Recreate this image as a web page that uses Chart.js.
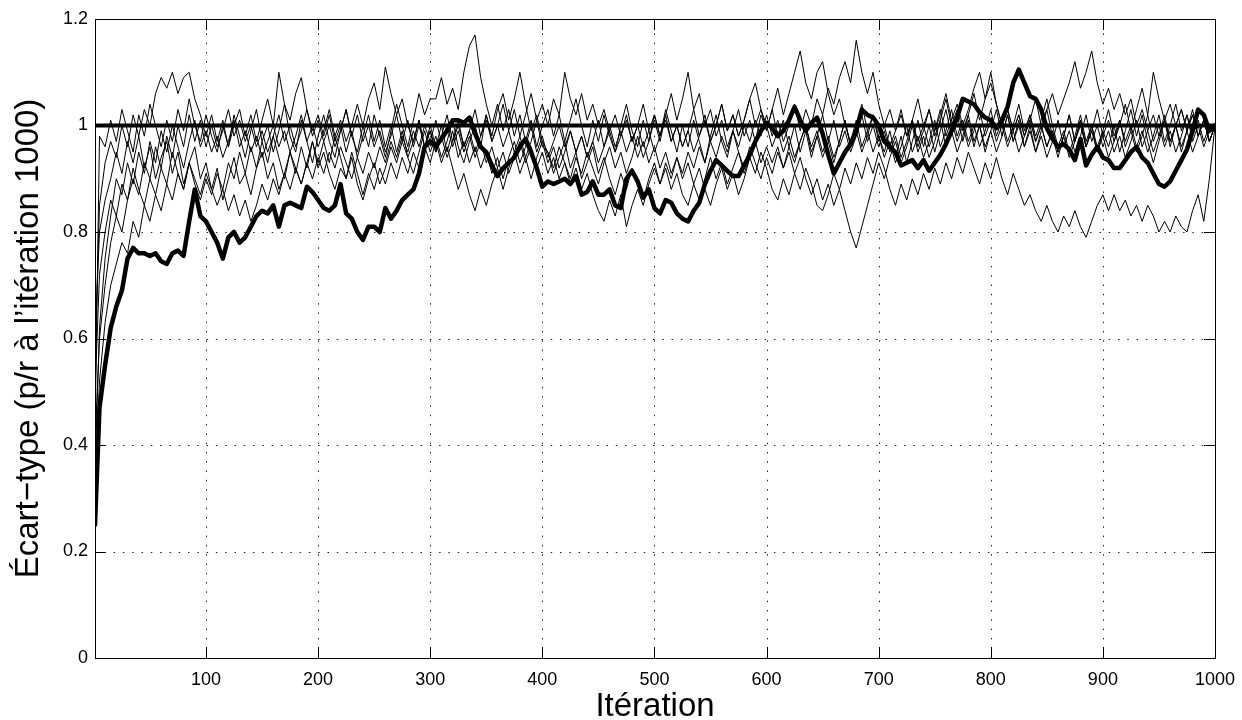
<!DOCTYPE html>
<html>
<head>
<meta charset="utf-8">
<script src="https://cdn.jsdelivr.net/npm/chart.js@4"></script>
<style>
body{margin:0;background:#fff;}
#wrap{width:1242px;height:720px;}
</style>
</head>
<body>
<div id="wrap"><canvas id="chart" width="1242" height="720"></canvas></div>
<script>

// sampling grid: iteration 1, then every 5 iterations
let iters=[1];
for(let k=5;k<=1000;k+=5) iters.push(k);

let xTicks=[100,200,300,400,500,600,700,800,900,1000];
let yTicks=[0,0.2,0.4,0.6,0.8,1,1.2];
let refLevel=1;

// thick run
let thick=[0.25,
0.47,0.55,0.62,0.66,0.69,0.75,0.77,0.76,0.76,0.755,0.76,0.745,0.74,0.76,0.765,0.755,0.82,0.88,0.83,0.82,
0.80,0.78,0.75,0.79,0.80,0.78,0.79,0.81,0.83,0.84,0.835,0.85,0.81,0.85,0.855,0.85,0.845,0.885,0.875,0.86,
0.845,0.84,0.85,0.89,0.835,0.825,0.80,0.785,0.81,0.81,0.80,0.845,0.825,0.84,0.86,0.87,0.88,0.91,0.96,0.97,
0.96,0.975,0.99,1.01,1.01,1.005,1.015,0.985,0.96,0.95,0.925,0.905,0.92,0.93,0.94,0.96,0.975,0.95,0.92,0.885,
0.895,0.89,0.895,0.9,0.89,0.905,0.87,0.875,0.895,0.87,0.87,0.88,0.85,0.845,0.9,0.915,0.895,0.865,0.88,0.845,
0.835,0.86,0.855,0.835,0.825,0.82,0.84,0.855,0.89,0.915,0.935,0.925,0.915,0.905,0.905,0.925,0.945,0.97,0.99,1.005,
0.995,0.98,0.99,1.01,1.035,1.01,0.99,1.005,1.015,0.985,0.945,0.91,0.93,0.95,0.965,0.99,1.03,1.02,1.015,1.0,
0.97,0.96,0.95,0.925,0.93,0.935,0.92,0.935,0.915,0.93,0.945,0.965,0.99,1.015,1.05,1.045,1.04,1.025,1.015,1.01,
0.995,1.01,1.035,1.08,1.105,1.08,1.055,1.05,1.03,0.995,0.975,0.96,0.965,0.955,0.935,0.975,0.925,0.945,0.96,0.94,
0.935,0.92,0.92,0.935,0.95,0.96,0.94,0.93,0.91,0.89,0.885,0.895,0.915,0.935,0.955,0.99,1.03,1.02,0.99,1.0];

// thin runs
let runA=[0.42,
0.98,0.96,1.01,0.97,1.03,0.99,0.95,1.02,0.98,1.04,1.0,0.96,1.01,0.97,1.03,0.99,1.05,1.0,0.97,1.02,
0.98,0.95,1.0,0.96,1.02,0.98,0.94,0.99,1.03,0.97,1.0,0.95,0.99,1.04,0.98,0.95,1.01,0.97,0.93,0.98,
1.02,0.97,0.94,0.99,1.03,0.98,0.95,1.0,0.96,1.02,0.98,0.94,0.99,1.04,1.0,0.96,1.01,1.06,1.02,1.05,
1.05,1.09,1.04,1.07,1.03,1.1,1.15,1.17,1.09,1.04,1.0,1.04,0.99,1.03,0.98,1.02,0.97,1.01,0.96,1.0,
1.03,0.98,1.02,0.97,1.01,1.05,1.0,0.96,1.01,0.97,1.02,0.98,0.95,1.0,1.04,0.99,0.96,1.01,0.97,1.02,
0.98,1.03,0.99,0.95,1.0,0.96,1.01,0.97,0.93,0.98,1.02,0.97,0.94,0.99,1.03,0.98,1.01,0.97,1.02,0.99,
1.03,0.98,1.01,0.96,1.0,0.95,0.99,0.94,0.98,1.02,0.97,0.93,0.97,1.01,0.96,1.0,1.04,0.99,1.02,0.98,
0.95,0.99,0.94,0.98,0.93,0.97,1.01,0.96,1.0,0.95,0.99,1.03,0.98,1.02,0.97,1.01,0.96,1.0,0.95,0.99,
1.03,0.98,1.02,0.97,1.01,0.96,1.0,0.95,0.99,1.03,0.98,0.94,0.98,1.02,0.97,1.01,0.96,1.0,0.95,0.99,
0.96,1.0,0.95,0.99,1.03,0.98,1.02,0.97,0.93,0.97,1.01,0.96,1.0,0.95,0.99,1.03,0.98,1.01,0.97,1.0];

let runB=[0.55,
0.85,0.93,0.97,0.94,1.0,0.96,1.02,0.98,1.03,1.0,1.06,1.09,1.07,1.1,1.06,1.09,1.1,1.05,1.02,0.98,
1.02,0.97,1.01,0.96,1.0,1.03,0.98,1.02,0.97,1.01,1.05,1.0,1.1,1.04,1.01,1.06,1.09,1.03,0.99,1.02,
0.98,1.02,0.97,1.0,0.95,0.99,0.94,0.98,1.02,0.97,1.01,0.96,1.0,0.95,0.99,0.94,0.97,1.01,0.96,1.0,
0.96,1.0,0.95,0.99,0.94,0.97,0.93,0.96,0.92,0.95,0.91,0.94,0.9,0.94,0.97,0.93,0.96,1.0,0.95,0.98,
0.94,0.97,1.0,0.96,0.99,0.95,0.98,0.94,0.97,1.01,0.96,0.99,0.95,0.98,1.02,0.97,1.0,0.96,0.99,0.95,
0.98,1.02,0.97,1.0,0.96,0.99,1.03,0.98,1.01,0.97,1.0,1.04,0.99,1.02,0.98,1.01,1.05,1.0,1.03,0.99,
1.03,1.07,1.02,1.06,1.1,1.14,1.08,1.05,1.1,1.12,1.06,1.02,1.05,1.0,0.97,1.01,0.96,0.99,0.95,0.98,
0.94,0.97,0.93,0.96,1.0,0.95,0.98,0.94,0.97,1.01,0.96,0.99,1.03,0.98,1.01,0.97,1.0,0.96,0.99,1.03,
0.98,1.01,0.97,1.0,1.04,0.99,1.02,0.98,1.01,1.05,1.0,0.96,0.99,0.95,0.98,1.02,0.97,1.0,0.96,0.99,
1.03,0.98,1.01,0.97,1.0,0.96,0.99,0.95,0.98,1.02,0.97,1.0,1.04,0.99,1.02,0.98,1.01,0.97,1.0,1.0];

let runC=[0.35,
0.62,0.75,0.83,0.9,0.87,0.93,0.89,0.95,0.91,0.97,0.93,0.99,0.95,1.0,0.96,0.92,0.97,1.01,0.96,0.99,
0.95,0.98,0.94,0.97,1.01,0.96,0.99,0.95,0.98,0.94,0.97,1.0,0.96,0.99,0.95,0.98,1.02,0.97,1.0,0.96,
0.99,1.03,0.98,1.01,0.97,1.0,1.04,1.0,1.05,1.08,1.03,1.11,1.06,1.02,1.05,1.0,0.97,1.01,0.96,0.99,
0.95,0.98,0.94,0.97,1.01,0.96,0.99,0.95,0.98,1.02,0.97,1.0,0.96,0.99,0.95,0.98,0.94,0.97,1.01,0.96,
0.95,0.91,0.94,0.97,0.92,0.95,0.9,0.93,0.96,0.91,0.94,0.9,0.87,0.91,0.88,0.92,0.89,0.86,0.9,0.93,
0.89,0.92,0.88,0.91,0.87,0.85,0.89,0.86,0.9,0.94,0.9,0.93,0.89,0.92,0.95,0.91,0.94,0.97,0.93,0.96,
0.93,0.96,0.92,0.95,0.91,0.94,0.9,0.87,0.9,0.86,0.89,0.85,0.88,0.84,0.8,0.77,0.81,0.85,0.89,0.93,
0.9,0.94,0.97,0.93,0.96,1.0,0.95,0.98,0.94,0.97,1.01,0.96,0.99,0.95,0.98,1.02,0.97,1.0,0.96,0.99,
0.95,0.98,1.02,0.97,1.0,0.96,0.99,0.95,0.98,0.94,0.97,1.01,0.96,0.99,0.95,0.98,1.02,0.97,1.0,0.96,
0.99,0.95,0.98,0.94,0.97,1.01,0.96,0.99,0.95,0.98,1.02,0.97,1.0,0.96,0.99,0.95,0.98,1.01,0.97,1.0];

let runD=[0.3,
0.52,0.63,0.7,0.74,0.78,0.76,0.82,0.79,0.85,0.82,0.87,0.84,0.89,0.86,0.91,0.88,0.93,0.9,0.87,0.91,
0.88,0.85,0.88,0.84,0.87,0.83,0.86,0.82,0.85,0.89,0.86,0.9,0.87,0.91,0.88,0.92,0.89,0.93,0.9,0.94,
0.91,0.95,0.92,0.96,0.93,0.9,0.94,0.91,0.95,0.92,0.96,0.93,0.97,0.94,0.98,0.95,0.99,0.96,1.0,0.97,
1.01,0.97,1.0,0.96,0.99,0.95,0.98,0.94,0.97,0.93,0.96,0.92,0.95,0.91,0.94,0.97,0.93,0.96,0.92,0.95,
0.91,0.94,0.9,0.93,0.89,0.92,0.88,0.91,0.87,0.84,0.82,0.86,0.83,0.87,0.81,0.85,0.88,0.85,0.89,0.92,
0.89,0.93,0.9,0.94,0.91,0.95,0.92,0.96,0.93,0.97,0.94,0.98,0.95,0.99,0.96,1.0,0.97,1.01,0.98,1.02,
0.98,1.01,0.97,1.0,1.04,0.99,1.03,1.0,1.05,1.02,1.07,1.04,1.09,1.12,1.08,1.16,1.1,1.06,1.1,1.04,
1.0,1.03,0.99,1.02,0.98,1.01,0.97,1.0,0.96,0.99,1.03,0.98,1.01,0.97,1.0,0.96,0.99,1.03,0.98,1.01,
0.97,1.0,0.96,0.99,0.95,0.98,1.02,0.97,1.0,0.96,0.99,0.95,0.98,0.94,0.97,1.01,0.96,0.99,0.95,0.98,
0.94,0.97,1.01,0.96,0.99,0.95,0.98,1.02,0.97,1.0,0.96,0.99,0.95,0.98,1.02,0.97,1.0,0.96,0.99,1.0];

let runE=[0.5,
0.72,0.8,0.86,0.83,0.89,0.86,0.92,0.88,0.85,0.9,0.87,0.92,0.89,0.95,0.91,0.88,0.93,0.89,0.86,0.9,
0.87,0.91,0.88,0.93,0.9,0.95,0.91,0.96,0.92,0.97,0.93,0.98,0.94,0.9,0.95,0.91,0.96,0.92,0.97,0.93,
0.97,0.93,0.98,0.94,0.9,0.95,0.91,0.87,0.91,0.88,0.92,0.89,0.93,0.9,0.94,0.91,0.95,0.92,0.96,0.93,
0.97,0.93,0.96,0.92,0.88,0.91,0.87,0.84,0.88,0.85,0.89,0.92,0.88,0.92,0.95,0.91,0.94,0.9,0.94,0.97,
0.93,0.96,0.92,0.95,0.99,0.95,0.98,0.94,0.97,0.93,0.96,1.0,0.96,0.99,0.95,0.98,0.94,0.97,0.93,0.96,
0.92,0.95,0.91,0.94,0.9,0.93,0.89,0.92,0.88,0.85,0.89,0.92,0.88,0.91,0.87,0.9,0.94,0.91,0.95,0.92,
0.88,0.86,0.9,0.87,0.91,0.88,0.92,0.89,0.85,0.84,0.87,0.91,0.88,0.92,0.89,0.93,0.9,0.94,0.91,0.95,
0.92,0.88,0.85,0.89,0.86,0.9,0.87,0.91,0.88,0.92,0.89,0.93,0.9,0.94,0.91,0.95,0.92,0.89,0.93,0.9,
0.94,0.9,0.87,0.91,0.88,0.85,0.87,0.84,0.82,0.85,0.82,0.8,0.83,0.81,0.84,0.81,0.79,0.82,0.85,0.87,
0.84,0.87,0.84,0.86,0.83,0.85,0.82,0.85,0.83,0.8,0.82,0.8,0.83,0.81,0.8,0.84,0.87,0.82,0.9,1.0];

let runF=[0.4,
0.6,0.7,0.78,0.83,0.8,0.86,0.9,0.87,0.93,0.9,0.96,0.92,0.98,0.94,1.0,0.96,1.02,0.97,1.01,0.96,
1.0,0.96,0.99,1.03,0.98,1.01,0.97,1.0,0.96,0.99,0.95,0.98,1.02,0.97,1.0,0.96,0.99,1.03,0.98,1.01,
0.97,1.0,0.96,0.99,1.03,0.98,1.02,0.97,1.0,0.96,0.99,0.95,0.98,1.02,0.97,1.01,0.96,1.0,0.96,0.99,
0.95,0.98,1.02,0.97,1.0,0.96,0.99,1.03,0.98,1.01,0.97,1.0,1.04,0.99,1.03,0.98,1.02,1.06,1.01,1.04,
1.0,1.05,1.02,1.1,1.05,1.02,1.06,1.01,1.04,1.0,1.03,0.99,1.02,0.98,1.01,0.97,1.0,1.04,0.99,1.02,
0.98,1.01,0.97,1.0,0.96,0.99,0.95,0.98,1.02,0.97,1.0,1.04,0.99,1.02,0.98,1.01,1.05,1.08,1.03,1.0,
0.96,0.99,0.95,0.98,0.94,0.97,1.0,0.96,0.99,0.95,0.98,0.94,0.97,1.01,0.96,0.99,0.95,0.98,1.02,0.97,
1.0,0.96,0.99,1.03,0.98,1.01,1.05,1.0,1.03,0.99,1.02,1.06,1.01,1.04,1.0,1.03,1.07,1.1,1.05,1.08,
1.04,1.0,1.03,0.99,1.02,0.98,1.01,1.05,1.0,1.03,1.06,1.02,1.05,1.08,1.12,1.07,1.1,1.14,1.08,1.04,
1.07,1.03,1.06,1.02,1.05,1.0,1.03,0.99,1.02,0.98,1.01,0.97,1.0,1.03,0.99,1.02,0.98,1.01,0.97,1.0];

let runG=[0.6,
0.8,0.86,0.9,0.95,0.91,0.97,0.93,0.98,0.92,0.96,0.9,0.94,0.97,0.91,0.95,0.89,0.93,0.96,0.9,0.93,
0.88,0.92,0.86,0.9,0.94,0.89,0.91,0.87,0.92,0.95,0.9,0.93,0.88,0.91,0.95,0.92,0.89,0.93,0.97,0.92,
0.95,0.91,0.88,0.92,0.9,0.94,0.89,0.86,0.9,0.93,0.89,0.92,0.96,0.93,0.97,0.94,0.91,0.95,0.99,0.95,
0.98,0.94,0.97,1.01,0.96,0.93,0.97,1.0,0.96,1.02,0.98,1.03,1.06,1.01,1.05,1.1,1.04,0.99,1.02,0.97,
0.95,0.92,0.96,0.93,0.9,0.94,0.91,0.95,0.92,0.89,0.93,0.96,0.92,0.95,0.91,0.94,0.98,0.94,0.97,1.01,
0.97,1.02,1.06,1.01,1.05,1.1,1.03,1.06,1.0,1.03,0.98,1.01,0.96,0.99,0.95,0.92,0.96,0.93,0.9,0.94,
0.91,0.95,0.92,0.96,0.93,0.97,1.0,0.95,0.98,0.94,0.97,1.01,0.96,0.99,0.95,0.98,1.02,0.97,1.0,0.96,
0.99,0.95,0.98,0.94,0.97,1.01,0.96,0.99,1.03,0.98,1.01,1.05,1.0,1.03,0.99,1.02,1.06,1.01,1.05,1.1,
1.04,1.0,1.03,0.99,1.02,0.98,1.01,0.97,1.0,0.96,0.99,0.95,0.98,1.02,0.97,1.0,0.96,0.99,1.03,0.98,
1.01,0.97,1.0,1.04,0.99,1.03,1.07,1.02,1.1,1.05,1.01,1.04,1.0,1.03,0.99,1.02,0.98,1.01,0.97,1.0];

let thinRuns=[runA,runB,runC,runD,runE,runF,runG];

let FONT="'Liberation Sans', Arial, Helvetica, sans-serif";

function pts(vals){
return vals.map((v,i)=>({x:iters[i],y:v}));
}

let datasets=[];

datasets.push({
data:[{x:iters[0],y:refLevel},{x:iters[iters.length-1],y:refLevel}],
borderColor:"#000",
borderWidth:4,
pointRadius:0
});

datasets.push({
data:pts(thick),
borderColor:"#000",
borderWidth:4.5,
borderJoinStyle:"round",
borderCapStyle:"round",
pointRadius:0
});

thinRuns.forEach(r=>{
datasets.push({
data:pts(r),
borderColor:"#000",
borderWidth:1,
pointRadius:0
});
});

// dotted grid under the lines, box and inward ticks on top
let frame={
id:"frame",
beforeDatasetsDraw(chart){
let {ctx,chartArea:a,scales:{x,y}}=chart;
ctx.save();
ctx.strokeStyle="#222";
ctx.lineWidth=1;
ctx.setLineDash([1.5,7.8]);
xTicks.forEach(v=>{
if(v>=1000) return;
let px=Math.round(x.getPixelForValue(v))+0.5;
ctx.beginPath();ctx.moveTo(px,a.bottom);ctx.lineTo(px,a.top);ctx.stroke();
});
yTicks.forEach(v=>{
if(v<=0 || v>=1.2) return;
let py=Math.round(y.getPixelForValue(v))+0.5;
ctx.beginPath();ctx.moveTo(a.left,py);ctx.lineTo(a.right,py);ctx.stroke();
});
ctx.restore();
},
afterDatasetsDraw(chart){
let {ctx,chartArea:a,scales:{x,y}}=chart;
let L=11;
ctx.save();
ctx.strokeStyle="#000";
ctx.lineWidth=1;
ctx.setLineDash([]);
ctx.strokeRect(Math.round(a.left)+0.5,Math.round(a.top)+0.5,Math.round(a.right-a.left),Math.round(a.bottom-a.top));
xTicks.forEach(v=>{
let px=Math.round(x.getPixelForValue(v))+0.5;
ctx.beginPath();
ctx.moveTo(px,a.bottom);ctx.lineTo(px,a.bottom-L);
ctx.moveTo(px,a.top);ctx.lineTo(px,a.top+L);
ctx.stroke();
});
yTicks.forEach(v=>{
let py=Math.round(y.getPixelForValue(v))+0.5;
ctx.beginPath();
ctx.moveTo(a.left,py);ctx.lineTo(a.left+L,py);
ctx.moveTo(a.right,py);ctx.lineTo(a.right-L,py);
ctx.stroke();
});
ctx.restore();
}
};

new Chart(document.getElementById("chart"),{
type:"line",
data:{datasets},
options:{
responsive:false,
animation:false,
devicePixelRatio:1,
layout:{padding:{top:19,right:27,left:0,bottom:0}},
plugins:{legend:{display:false},tooltip:{enabled:false}},
scales:{
x:{
type:"linear",
min:1,
max:1000,
afterBuildTicks:s=>{s.ticks=xTicks.map(v=>({value:v}));},
afterFit:s=>{s.height=62;s.paddingLeft=0;s.paddingRight=0;},
grid:{display:false,drawTicks:false},
border:{display:false},
ticks:{color:"#000",font:{family:FONT,size:18},padding:11,maxRotation:0,autoSkip:false,callback:v=>String(v)},
title:{display:true,text:"Itération",color:"#000",font:{family:FONT,size:33,lineHeight:0.6},padding:{top:0,bottom:3}}
},
y:{
type:"linear",
min:0,
max:1.2,
afterBuildTicks:s=>{s.ticks=yTicks.map(v=>({value:v}));},
afterFit:s=>{s.width=95;},
grid:{display:false,drawTicks:false},
border:{display:false},
ticks:{color:"#000",font:{family:FONT,size:18},padding:7,autoSkip:false,callback:v=>String(+v.toFixed(1))},
title:{display:true,text:"Écart−type (p/r à l’itération 1000)",color:"#000",font:{family:FONT,size:33},padding:{top:9,bottom:0}}
}
}
},
plugins:[frame]
});

</script>
</body>
</html>
